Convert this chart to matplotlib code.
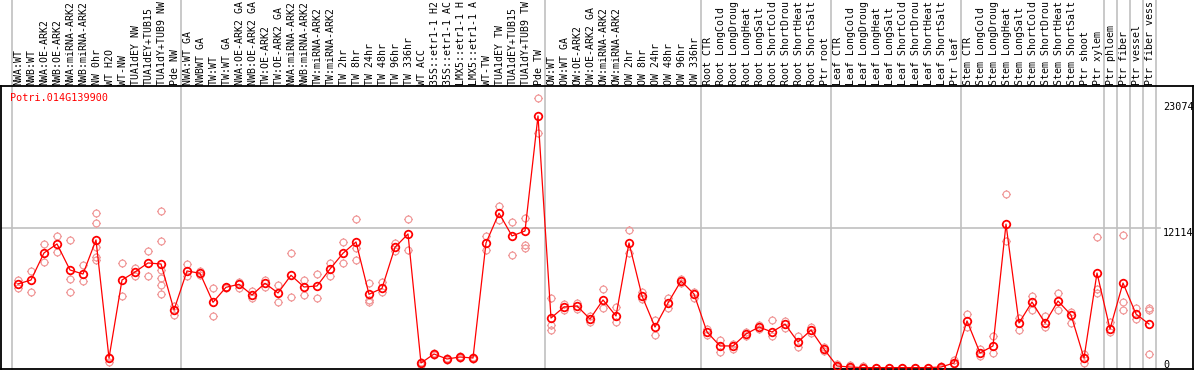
import matplotlib
matplotlib.use("Agg")
import matplotlib.pyplot as plt
from matplotlib.path import Path
import numpy as np

# sample labels, left to right
labels = [
    "NWA:WT", "NWB:WT", "NWA:OE-ARK2", "NWB:OE-ARK2", "NWA:miRNA-ARK2",
    "NWB:miRNA-ARK2", "NW 0hr", "WT H2O", "WT-NW", "TUA1dEY NW",
    "TUA1dEY+TUB15", "TUA1dY+TUB9 NW", "Pde NW",
    "NWA:WT GA", "NWBWT GA", "TW:WT", "TW:WT GA", "NWA:OE-ARK2 GA",
    "NWB:OE-ARK2 GA", "TW:OE-ARK2", "TW:OE-ARK2 GA", "NWA:miRNA-ARK2",
    "NWB:miRNA-ARK2", "TW:miRNA-ARK2", "TW:miRNA-ARK2", "TW 2hr", "TW 8hr",
    "TW 24hr", "TW 48hr", "TW 96hr", "TW 336hr", "WT ACC",
    "35S::etr1-1 H2O", "35S::etr1-1 ACC", "LMX5::etr1-1 H2O",
    "LMX5::etr1-1 ACC", "WT-TW", "TUA1dEY TW", "TUA1dEY+TUB15",
    "TUA1dY+TUB9 TW", "Pde TW",
    "OW:WT", "OW:WT GA", "OW:OE-ARK2", "OW:OE-ARK2 GA", "OW:miRNA-ARK2",
    "OW:miRNA-ARK2", "OW 2hr", "OW 8hr", "OW 24hr", "OW 48hr", "OW 96hr",
    "OW 336hr",
    "Root CTR", "Root LongCold", "Root LongDrought", "Root LongHeat",
    "Root LongSalt", "Root ShortCold", "Root ShortDrought", "Root ShortHeat",
    "Root ShortSalt", "Ptr root",
    "Leaf CTR", "Leaf LongCold", "Leaf LongDrought", "Leaf LongHeat",
    "Leaf LongSalt", "Leaf ShortCold", "Leaf ShortDrought", "Leaf ShortHeat",
    "Leaf ShortSalt", "Ptr leaf",
    "Stem CTR", "Stem LongCold", "Stem LongDrought", "Stem LongHeat",
    "Stem LongSalt", "Stem ShortCold", "Stem ShortDrought", "Stem ShortHeat",
    "Stem ShortSalt", "Ptr shoot", "Ptr xylem",
    "Ptr phloem", "Ptr fiber", "Ptr vessel", "Ptr fiber vessel",
]

# number of samples in each block (separated by grey lines)
group_sizes = [13, 28, 12, 10, 10, 11, 1, 1, 1, 1]

# mean expression per sample
means = [
    7260, 7600, 9950, 10730, 8470, 8120, 11080, 830, 7600, 8300, 9080, 8990, 5000,
    8385, 8185, 5668, 6970, 7230, 6302, 7317, 6475, 8012, 6996, 7083, 8558,
    9921, 10902, 6362, 6883, 10442, 11596, 399, 1180, 746, 920, 833,
    10815, 13401, 11423, 11857, 21839,
    4300, 5260, 5350, 4220, 5870, 4480, 10820, 6220, 3520, 5610, 7520, 6390,
    3090, 1880, 1880, 2920, 3520, 3090, 3780, 2220, 3260, 1610,
    140, 50, 0, 0, 0, 0, 0, 0, 50, 400,
    4050, 1270, 1880, 12450, 3870, 5690, 3870, 5780, 4570, 830, 8210,
    3350, 7340, 4650, 3780,
]

# individual replicates per sample
reps = [
    [7600, 6910], [8390, 6560], [10730, 9170], [11420, 10030],
    [11080, 7690, 6560], [8910, 7520], [13400, 12530, 10470, 9600, 9340],
    [920, 490], [9080, 6220], [8650, 7950], [10120, 7950],
    [13580, 10990, 8470, 7780, 7170, 6390], [5350, 4570],
    [8984, 7951], [8385, 8000], [6883, 4479], [6996, 6909], [7456, 6935],
    [6649, 6015], [7604, 7022], [7170, 5668], [9921, 6128], [7604, 6302],
    [8124, 6015], [9105, 7925], [10902, 9105], [12872, 10355, 9340],
    [7317, 5868, 5668], [7404, 6536], [10789, 10121], [12872, 10182],
    [500, 250], [1270, 1100], [830, 660], [1000, 850], [920, 750],
    [11423, 10207], [14009, 12793], [12638, 9773], [12967, 10641, 10381],
    [23401, 20360],
    [6040, 3700, 3260], [5520, 5000], [5600, 5100], [4480, 3960],
    [6820, 5170], [5260, 3960], [11940, 9950], [6560, 5950], [4130, 2830],
    [6040, 5170], [7700, 7340], [6560, 6040],
    [3350, 2830], [2400, 1350], [2050, 1600], [3100, 2750], [3700, 3350],
    [4130, 2750], [4050, 3440], [2750, 1800], [3520, 3000], [1800, 1450],
    [300, 50], [200, 0], [100, 0], [0, 0], [0, 0], [0, 0], [0, 0], [0, 0],
    [100, 0], [650, 300],
    [4650, 3520], [1600, 1000], [2750, 1270], [15100, 10990], [4300, 3260],
    [6220, 5000], [4480, 3520], [6470, 5000], [4830, 3870], [1180, 400],
    [11340, 6820, 6470],
    [3960, 3090], [11510, 5700, 5000], [5170, 4220], [5170, 4990, 1180],
]

ytick_vals = [23074, 12114, 0]

W, H = 1194, 370
fig = plt.figure(figsize=(W / 100, H / 100), dpi=100)
ax_top, ax_bot, ax_l, ax_r = 86, 369, 1, 1193
ax = fig.add_axes([ax_l / W, (H - ax_bot) / H, (ax_r - ax_l) / W,
                   (ax_bot - ax_top) / H])
n = len(labels)
x = np.arange(n)
# point i sits at 18 + 13*i pixels
ax.set_xlim((ax_l - 18) / 13, (ax_r - 18) / 13)
y0px = 367.6
k = 0.011524
ax.set_ylim(-(ax_bot - y0px) / k, (y0px - ax_top) / k)
ax.set_xticks([])
ax.set_yticks([])
for s in ax.spines.values():
    s.set_color("black")
    s.set_linewidth(1.3)

mono = "DejaVu Sans Mono"
grey = "#c0c0c0"

# group separators
bounds = np.cumsum([0] + group_sizes) - 0.5
ext = (ax_bot - 0) / (ax_bot - ax_top)
for b in bounds:
    ax.axvline(b, ymin=0, ymax=ext, color=grey, lw=1.2, clip_on=False, zorder=0)
ax.axhline(12114, xmax=(1160 - ax_l) / (ax_r - ax_l), color=grey, lw=1.2, zorder=0)

# circle with four small ticks
circ = Path.unit_circle()
tv, tc = [], []
for dx, dy in [(1, 0), (-1, 0), (0, 1), (0, -1)]:
    tv += [(dx, dy), (1.22 * dx, 1.22 * dy)]
    tc += [Path.MOVETO, Path.LINETO]
marker = Path.make_compound_path(circ, Path(tv, tc))

for i, r in enumerate(reps):
    ax.plot([i] * len(r), r, ls="none", marker=marker, ms=6.0,
            mfc="none", mec="#f09898", mew=0.85, zorder=2)
ax.plot(x, means, color="red", lw=0.9, zorder=3)
ax.plot(x, means, ls="none", marker=marker, ms=6.6, mfc="none",
        mec="red", mew=1.25, zorder=4)

# vertical sample labels above the plot (long names cut to 14 chars)
trans = ax.get_xaxis_transform()
for i, lab in enumerate(labels):
    ax.text(i + 0.05, 1.004, lab[:14], rotation=90, ha="center", va="bottom",
            fontsize=7.1, family=mono, transform=trans, clip_on=False)

ax.text(-0.65, 0.975, "Potri.014G139900", color="red", fontsize=7.3,
        family=mono, transform=trans, va="top", ha="left")

for v in ytick_vals:
    ax.text((1163 - 18) / 13, v, str(v), fontsize=7.3, family=mono,
            va="top" if v else "baseline", ha="left")

fig.savefig("out.png", dpi=100)
